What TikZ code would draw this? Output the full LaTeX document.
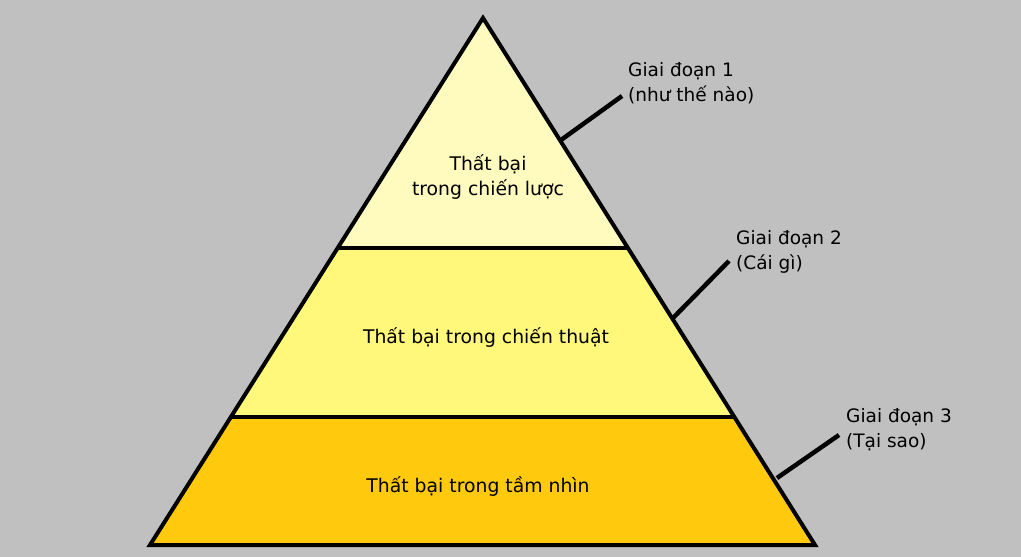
\documentclass[tikz,border=0pt]{standalone}
\usepackage{fontspec}
\setmainfont{DejaVu Sans}
\usepackage{xcolor}
\usetikzlibrary{positioning}
\definecolor{bggray}{HTML}{C0C0C0}
\definecolor{topband}{HTML}{FFFBBE}
\definecolor{midband}{HTML}{FFF87A}
\definecolor{lowband}{HTML}{FFC90E}

\begin{document}
\begin{tikzpicture}[x=1pt,y=-1pt,line join=miter,
   band/.style={draw=black,line width=4pt},
   lead/.style={draw=black,line width=4.5pt},
   txt/.style={font=\fontsize{18.8}{25}\selectfont,align=center,inner sep=0pt},
   stage/.style={font=\fontsize{18.5}{25}\selectfont,align=left,anchor=west,inner sep=0pt}]
   \fill[bggray] (0,0) rectangle (1021,557);
   \useasboundingbox (0,0) rectangle (1021,557);
   % pyramid corners
   \coordinate (apex) at (483,18);
   \coordinate (bl) at (150,545);
   \coordinate (br) at (815,545);
   \coordinate (l1) at (338,248);
   \coordinate (r1) at (628,248);
   \coordinate (l2) at (231,417);
   \coordinate (r2) at (733,417);
   \fill[lowband] (l2) -- (r2) -- (br) -- (bl) -- cycle;
   \fill[midband] (l1) -- (r1) -- (r2) -- (l2) -- cycle;
   \fill[topband] (apex) -- (r1) -- (l1) -- cycle;
   \draw[band] (l1) -- (r1);
   \draw[band] (l2) -- (r2);
   \draw[band] (apex) -- (br) -- (bl) -- cycle;
   % texts
   \node[txt] (strat) at (488,177) {Thất bại\\trong chiến lược};
   \node[txt] (tact) at (486,337) {Thất bại trong chiến thuật};
   \node[txt] (vis) at (478,486) {Thất bại trong tầm nhìn};
   \node[stage] (g1) at (628,83) {Giai đoạn 1\\(như thế nào)};
   \node[stage] (g2) at (736,252) {Giai đoạn 2\\(Cái gì)};
   \node[stage] (g3) at (846,430) {Giai đoạn 3\\(Tại sao)};
   % leader lines
   \coordinate (e1) at (561,140);
   \coordinate (e2) at (673,318);
   \coordinate (e3) at (777,478);
   \coordinate (t1) at (622,96);
   \coordinate (t2) at (729,261);
   \coordinate (t3) at (839,435);
   \draw[lead] (e1) -- (t1);
   \draw[lead] (e2) -- (t2);
   \draw[lead] (e3) -- (t3);
\end{tikzpicture}
\end{document}
